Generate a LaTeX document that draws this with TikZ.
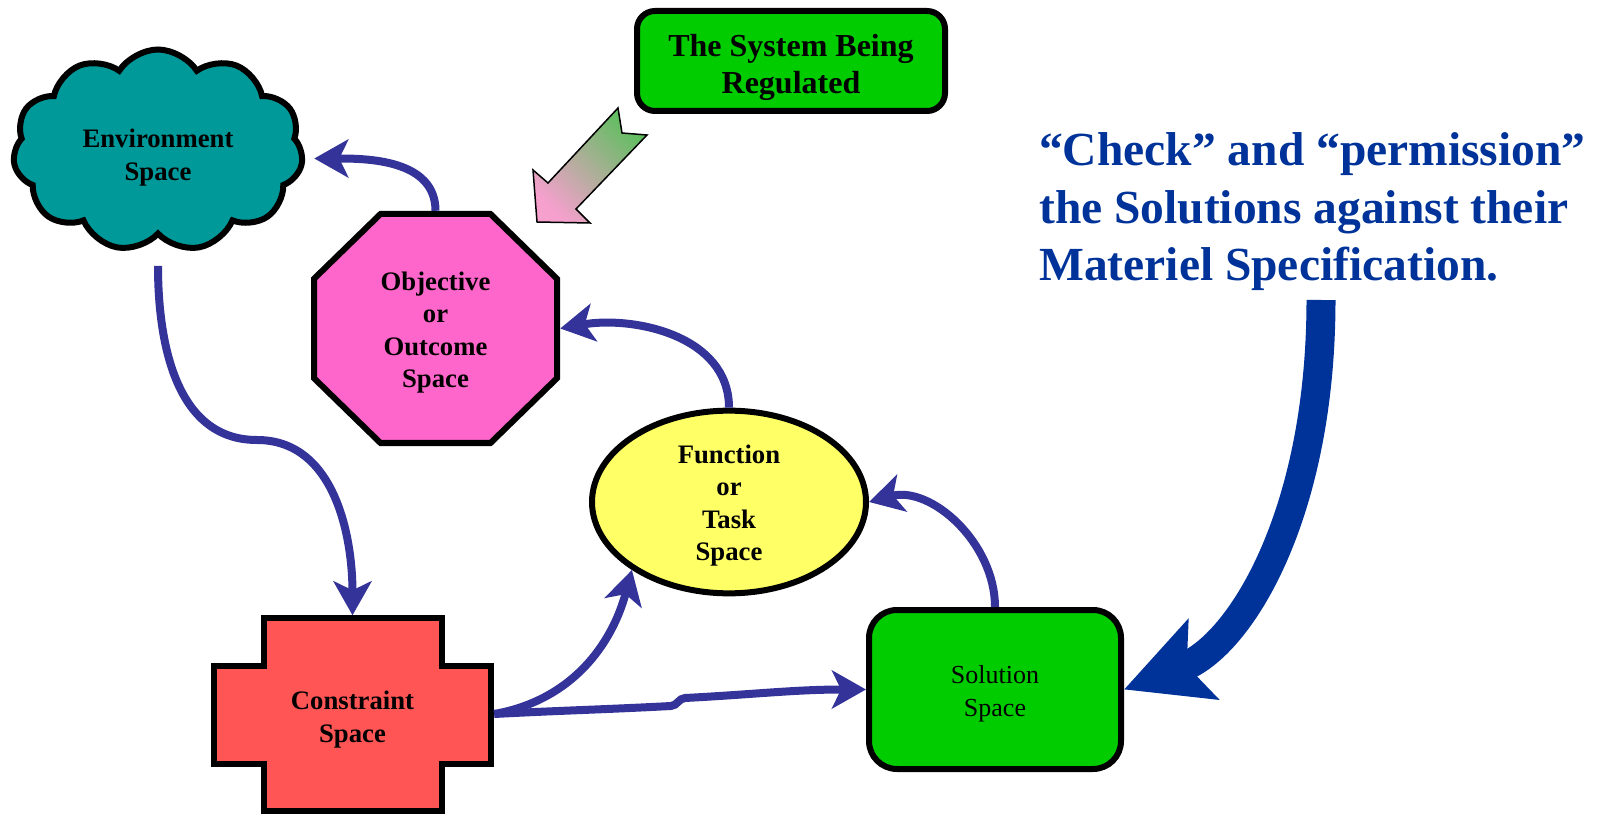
\documentclass[tikz,border=0pt]{standalone}
\usepackage{fontspec}
\setmainfont{Liberation Serif}
\usetikzlibrary{shapes,shapes.geometric,shapes.symbols,arrows.meta,calc,positioning}

\definecolor{envteal}{RGB}{0,153,153}
\definecolor{boxgreen}{RGB}{0,204,0}
\definecolor{objpink}{RGB}{255,102,204}
\definecolor{taskyellow}{RGB}{255,255,102}
\definecolor{consred}{RGB}{255,85,85}
\definecolor{linkblue}{RGB}{51,51,153}
\definecolor{noteblue}{RGB}{0,51,153}
\definecolor{hintgreen}{RGB}{95,190,95}
\definecolor{hintpink}{RGB}{245,160,205}

\newcommand{\spacefont}{\fontsize{26.7}{32.5}\selectfont\bfseries}
\newcommand{\padtop}[1]{\rule{0pt}{#1pt}}

\begin{document}
\begin{tikzpicture}[x=1pt, y=1pt, >={Stealth[length=34pt, width=38pt, inset=9pt]},
    space/.style={draw, line width=6pt, align=center, inner sep=0pt, font=\spacefont},
    envcloud/.style={space, cloud, cloud puffs=11, cloud puff arc=115, aspect=1.5,
      fill=envteal, minimum width=290pt, minimum height=202pt},
    objarea/.style={align=center, inner sep=0pt, font=\spacefont, minimum width=249pt, minimum height=235pt},
    objshape/.style={draw, line width=6pt, fill=objpink},
    taskoval/.style={space, ellipse, fill=taskyellow, minimum width=274pt, minimum height=178pt},
    solbox/.style={space, rounded corners=28pt, fill=boxgreen, minimum width=252pt,
      minimum height=159pt, font=\fontsize{26}{32.5}\selectfont},
    sysbox/.style={space, rounded corners=18pt, fill=boxgreen, minimum width=308pt,
      minimum height=100pt, font=\fontsize{32}{37}\selectfont\bfseries},
    consarea/.style={align=center, inner sep=0pt, font=\spacefont, minimum width=283pt, minimum height=197pt},
    consshape/.style={draw, line width=6pt, fill=consred},
    link/.style={->, line width=8pt, draw=linkblue},
    bigarrow/.style={-{Stealth[length=84pt, width=84pt, inset=17pt]}, line width=29pt, draw=noteblue},
    hintarrow/.style={draw=black, line width=1.5pt, top color=hintgreen, bottom color=hintpink, shading angle=-45},
    note/.style={anchor=west, align=left, inner sep=0pt, text=noteblue, font=\fontsize{47.5}{57.5}\selectfont\bfseries}]
  \useasboundingbox (0,0) rectangle (1598,815);

  % cross and octagon behind their nodes
  \draw[consshape] (263.5,197.5) -- (442,197.5) -- (442,149) -- (491,149) -- (491,51)
    -- (442,51) -- (442,4.5) -- (263.5,4.5) -- (263.5,51) -- (214,51) -- (214,149)
    -- (263.5,149) -- cycle;
  \draw[objshape] (380.5,601) -- (490.5,601) -- (557,536.2) -- (557,436.8) -- (490.5,372)
    -- (380.5,372) -- (314,436.8) -- (314,536.2) -- cycle;

  \node[envcloud] (env)   at (158,664.5) {\padtop{33}Environment\\Space};
  \node[sysbox]   (sys)   at (791,754)   {\padtop{36}The System Being\\Regulated};
  \node[objarea]  (obj)   at (435.5,486.5) {\padtop{27}Objective\\or\\Outcome\\Space};
  \node[taskoval] (task)  at (729,313)   {\padtop{26}Function\\or\\Task\\Space};
  \node[consarea] (cons)  at (352.5,101) {\padtop{30}Constraint\\Space};
  \node[solbox]   (sol)   at (995,125.5) {\padtop{27}Solution\\Space};
  \node[note]     (check) at (1039,603)  {“Check” and “permission”\\the Solutions against their\\Materiel Specification.};

  \coordinate (envbend)   at (257,375);
  \coordinate (kinkA)     at (671,109);
  \coordinate (kinkB)     at (685,117);
  \coordinate (checkfoot) at (1321,515);

  \draw[link, shorten <=28pt] (env.south) to[out=-90, in=180] (envbend) to[out=0, in=90] (cons.north);
  \draw[link] (obj.north)  to[out=90, in=0]    ([xshift=10pt, yshift=-8pt]env.east);
  \draw[link] (task.north) to[out=90, in=10]   (obj.east);
  \draw[link] (sol.north)  to[out=90, in=15]   (task.east);
  \draw[link] (cons.east)  to[out=10, in=-105] (task.-145);
  \draw[link] (cons.east) to[out=3, in=183] (kinkA) to[out=3, in=183] (kinkB)
    to[out=3, in=180] (sol.west);

  \draw[bigarrow] (checkfoot) .. controls +(0,-215) and +(116,44) .. (sol.east);

  % shaded hint arrow from the regulated system
  \path[hintarrow] (618,707) -- (622,682) -- (647,680) -- (576,606) -- (590,592)
    -- (537,593) -- (533,645) -- (548,632) -- cycle;
\end{tikzpicture}
\end{document}
